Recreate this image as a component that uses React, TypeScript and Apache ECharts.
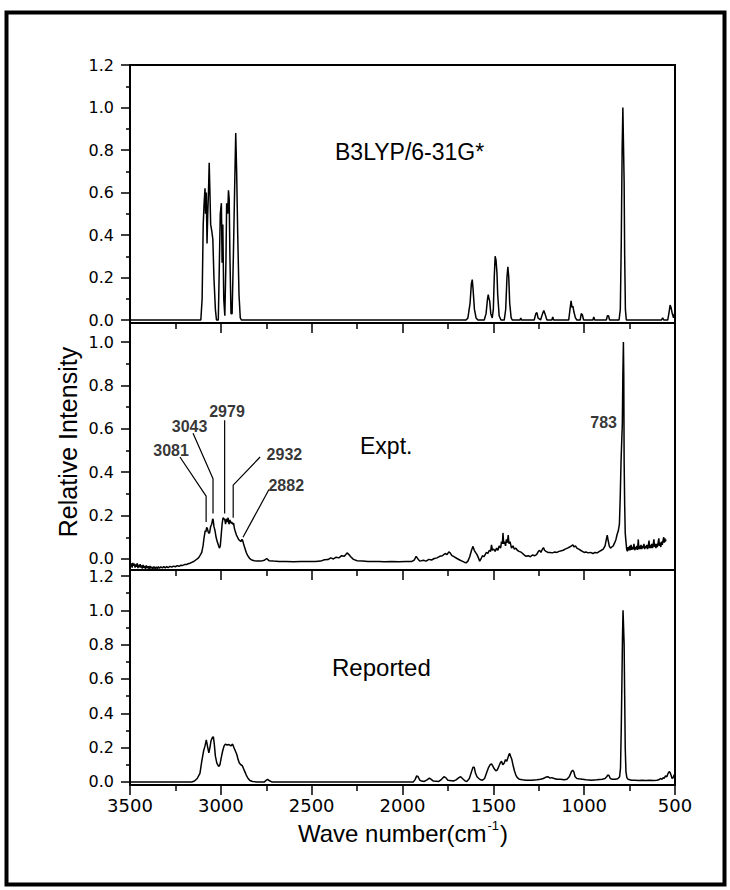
import React, { useEffect, useRef } from "react";
import * as echarts from "echarts";

// ---------- data (wave number cm-1, relative intensity) ----------
const waveTicks = [3500, 3000, 2500, 2000, 1500, 1000, 500];
const fullMajorY = [0, 0.2, 0.4, 0.6, 0.8, 1.0, 1.2];
const fullMinorY = [0.1, 0.3, 0.5, 0.7, 0.9, 1.1];
const exptMajorY = [0, 0.2, 0.4, 0.6, 0.8, 1.0];
const exptMinorY = [0.1, 0.3, 0.5, 0.7, 0.9];

const calcSpectrum: [number, number][] = [
  [3500, 0], [3110, 0], [3103, 0.1], [3097, 0.45], [3092, 0.55], [3087, 0.62], [3084, 0.5], [3080, 0.6],
  [3076, 0.36], [3072, 0.5], [3068, 0.6], [3064, 0.74], [3060, 0.6], [3056, 0.45], [3050, 0.42],
  [3044, 0.38], [3038, 0.2], [3030, 0.05], [3024, 0], [3014, 0], [3008, 0.27], [3003, 0.5], [2997, 0.55],
  [2993, 0.27], [2989, 0.45], [2984, 0.1], [2978, 0.02], [2972, 0.27], [2968, 0.55], [2962, 0.5],
  [2958, 0.61], [2954, 0.57], [2950, 0.3], [2944, 0.03], [2938, 0.03], [2931, 0.3], [2924, 0.62],
  [2918, 0.88], [2913, 0.7], [2907, 0.4], [2900, 0.12], [2893, 0.01], [2886, 0], [1650, 0], [1640, 0.01],
  [1628, 0.08], [1621, 0.17], [1616, 0.19], [1612, 0.15], [1604, 0.05], [1595, 0.01], [1585, 0],
  [1550, 0], [1540, 0.03], [1532, 0.1], [1528, 0.12], [1524, 0.1], [1520, 0.09], [1514, 0.03],
  [1506, 0.01], [1500, 0.05], [1495, 0.2], [1490, 0.3], [1485, 0.28], [1480, 0.22], [1476, 0.12],
  [1468, 0.02], [1458, 0], [1440, 0], [1432, 0.05], [1425, 0.2], [1420, 0.25], [1415, 0.2], [1410, 0.08],
  [1402, 0.01], [1395, 0], [1353, 0], [1349, 0.01], [1345, 0], [1275, 0], [1266, 0.03], [1260, 0.035],
  [1254, 0.01], [1240, 0], [1229, 0.03], [1222, 0.045], [1216, 0.03], [1205, 0], [1178, 0], [1173, 0.015],
  [1168, 0], [1085, 0], [1078, 0.05], [1072, 0.09], [1067, 0.06], [1062, 0.065], [1057, 0.04],
  [1048, 0.01], [1040, 0], [1022, 0], [1016, 0.03], [1010, 0.025], [1003, 0], [952, 0], [947, 0.015],
  [942, 0], [878, 0], [872, 0.02], [866, 0.02], [860, 0], [808, 0], [801, 0.05], [796, 0.35], [791, 0.8],
  [787, 1.0], [784, 1.0], [780, 0.65], [777, 0.3], [773, 0.05], [768, 0], [575, 0], [568, 0.01], [562, 0],
  [540, 0], [532, 0.04], [527, 0.07], [522, 0.06], [515, 0.03], [508, 0.01], [503, 0.03], [500, 0.04],
];

const exptSpectrum: [number, number][] = [
  [3500, -0.015], [3496, -0.035], [3492, -0.02], [3488, -0.04], [3484, -0.018], [3480, -0.032],
  [3476, -0.022], [3472, -0.04], [3468, -0.025], [3464, -0.036], [3460, -0.02], [3456, -0.042],
  [3452, -0.028], [3448, -0.038], [3444, -0.024], [3440, -0.04], [3436, -0.03], [3432, -0.044],
  [3428, -0.028], [3424, -0.04], [3420, -0.032], [3415, -0.045], [3410, -0.03], [3405, -0.042],
  [3400, -0.034], [3395, -0.046], [3390, -0.033], [3385, -0.044], [3380, -0.036], [3374, -0.046],
  [3368, -0.035], [3362, -0.045], [3356, -0.037], [3350, -0.044], [3344, -0.036], [3338, -0.043],
  [3330, -0.036], [3322, -0.042], [3314, -0.035], [3306, -0.041], [3298, -0.035], [3290, -0.04],
  [3280, -0.034], [3270, -0.038], [3260, -0.033], [3250, -0.036], [3240, -0.031], [3230, -0.034],
  [3220, -0.029], [3210, -0.03], [3200, -0.026], [3190, -0.026], [3180, -0.022], [3170, -0.02],
  [3160, -0.016], [3150, -0.012], [3140, -0.006], [3130, 0.0], [3122, 0.006], [3115, 0.015],
  [3105, 0.03], [3098, 0.06], [3092, 0.1], [3086, 0.13], [3082, 0.125], [3078, 0.145], [3074, 0.14],
  [3068, 0.12], [3062, 0.12], [3056, 0.15], [3050, 0.16], [3045, 0.185], [3042, 0.18], [3038, 0.15],
  [3032, 0.13], [3026, 0.1], [3020, 0.08], [3014, 0.065], [3008, 0.05], [3003, 0.06], [2998, 0.11],
  [2993, 0.16], [2988, 0.19], [2983, 0.185], [2978, 0.18], [2974, 0.16], [2970, 0.185], [2965, 0.17],
  [2960, 0.19], [2955, 0.16], [2950, 0.18], [2945, 0.165], [2940, 0.17], [2935, 0.16], [2930, 0.165],
  [2925, 0.14], [2920, 0.125], [2914, 0.11], [2908, 0.1], [2902, 0.09], [2896, 0.085], [2890, 0.08],
  [2884, 0.09], [2880, 0.085], [2875, 0.07], [2868, 0.05], [2860, 0.03], [2852, 0.015], [2842, 0.003],
  [2830, -0.005], [2815, -0.008], [2800, -0.01], [2780, -0.01], [2760, -0.006], [2748, 0.002],
  [2735, -0.008], [2710, -0.01], [2680, -0.012], [2640, -0.012], [2600, -0.013], [2560, -0.012],
  [2520, -0.012], [2480, -0.012], [2450, -0.01], [2430, -0.004], [2410, -0.003], [2395, 0.005],
  [2380, 0.0], [2365, 0.008], [2350, 0.005], [2335, 0.015], [2320, 0.012], [2305, 0.028], [2295, 0.02],
  [2285, 0.01], [2270, -0.002], [2250, -0.008], [2220, -0.01], [2190, -0.012], [2160, -0.012],
  [2130, -0.012], [2100, -0.013], [2060, -0.012], [2020, -0.013], [1980, -0.012], [1950, -0.012],
  [1935, -0.005], [1925, 0.012], [1915, 0.0], [1905, -0.01], [1885, -0.006], [1870, -0.01],
  [1855, -0.002], [1840, -0.005], [1825, 0.002], [1810, 0.005], [1795, 0.012], [1780, 0.015],
  [1765, 0.025], [1755, 0.02], [1745, 0.033], [1738, 0.028], [1728, 0.015], [1715, 0.01], [1700, 0.002],
  [1685, -0.005], [1672, -0.01], [1660, -0.015], [1650, -0.018], [1640, -0.01], [1630, 0.01],
  [1620, 0.04], [1612, 0.058], [1605, 0.04], [1598, 0.03], [1590, 0.02], [1582, 0.005], [1575, -0.01],
  [1568, 0.0], [1560, 0.015], [1552, 0.01], [1545, 0.02], [1538, 0.03], [1530, 0.025], [1522, 0.04],
  [1515, 0.035], [1510, 0.065], [1505, 0.04], [1498, 0.045], [1490, 0.035], [1482, 0.05], [1475, 0.04],
  [1468, 0.06], [1460, 0.05], [1455, 0.08], [1450, 0.07], [1447, 0.12], [1443, 0.07], [1438, 0.08],
  [1433, 0.06], [1428, 0.09], [1423, 0.075], [1418, 0.11], [1414, 0.07], [1408, 0.08], [1400, 0.05],
  [1392, 0.06], [1384, 0.045], [1376, 0.05], [1368, 0.04], [1358, 0.035], [1345, 0.03], [1332, 0.02],
  [1320, 0.012], [1308, 0.015], [1296, 0.01], [1285, 0.018], [1272, 0.015], [1262, 0.02], [1252, 0.035],
  [1245, 0.04], [1238, 0.03], [1230, 0.045], [1224, 0.052], [1218, 0.04], [1210, 0.035], [1200, 0.03],
  [1188, 0.03], [1175, 0.028], [1162, 0.032], [1150, 0.03], [1138, 0.035], [1125, 0.038], [1115, 0.04],
  [1105, 0.045], [1092, 0.05], [1080, 0.055], [1070, 0.06], [1062, 0.065], [1055, 0.055], [1048, 0.06],
  [1040, 0.05], [1030, 0.045], [1020, 0.04], [1010, 0.035], [1000, 0.03], [990, 0.032], [978, 0.028],
  [965, 0.03], [952, 0.025], [940, 0.03], [928, 0.028], [916, 0.035], [905, 0.04], [895, 0.045],
  [885, 0.06], [878, 0.09], [873, 0.11], [868, 0.085], [862, 0.06], [855, 0.05], [848, 0.055],
  [840, 0.06], [832, 0.075], [825, 0.09], [818, 0.115], [812, 0.13], [806, 0.16], [801, 0.3],
  [797, 0.45], [793, 0.55], [790, 0.62], [787, 0.85], [784, 1.0], [782, 0.85], [780, 0.45], [777, 0.25],
  [774, 0.12], [770, 0.08], [766, 0.045], [762, 0.035], [758, 0.055], [754, 0.04], [750, 0.06],
  [746, 0.04], [742, 0.065], [738, 0.042], [734, 0.055], [730, 0.045], [726, 0.07], [722, 0.04],
  [718, 0.055], [714, 0.045], [710, 0.06], [706, 0.042], [702, 0.09], [699, 0.045], [695, 0.06],
  [691, 0.045], [687, 0.065], [683, 0.045], [679, 0.06], [675, 0.05], [671, 0.07], [667, 0.045],
  [663, 0.06], [659, 0.05], [655, 0.065], [651, 0.045], [647, 0.06], [643, 0.085], [640, 0.05],
  [636, 0.065], [632, 0.05], [628, 0.07], [624, 0.05], [620, 0.065], [616, 0.09], [613, 0.055],
  [609, 0.07], [605, 0.05], [601, 0.07], [597, 0.055], [593, 0.075], [589, 0.095], [586, 0.06],
  [582, 0.075], [578, 0.055], [574, 0.08], [570, 0.065], [566, 0.085], [562, 0.1], [559, 0.075],
  [556, 0.095], [553, 0.08], [550, 0.09],
];

const reportedSpectrum: [number, number][] = [
  [3500, 0], [3160, 0], [3145, 0.005], [3130, 0.02], [3115, 0.05], [3105, 0.12], [3095, 0.18],
  [3087, 0.21], [3080, 0.245], [3072, 0.2], [3066, 0.17], [3060, 0.2], [3054, 0.24], [3046, 0.26],
  [3041, 0.262], [3036, 0.22], [3030, 0.15], [3022, 0.11], [3012, 0.09], [3005, 0.1], [2998, 0.14],
  [2990, 0.18], [2982, 0.21], [2975, 0.22], [2965, 0.215], [2955, 0.218], [2945, 0.21], [2935, 0.22],
  [2928, 0.2], [2920, 0.18], [2912, 0.16], [2905, 0.13], [2898, 0.11], [2890, 0.1], [2882, 0.095],
  [2876, 0.08], [2868, 0.06], [2860, 0.04], [2850, 0.02], [2840, 0.008], [2825, 0.002], [2800, 0],
  [2760, 0], [2750, 0.01], [2742, 0.015], [2735, 0.008], [2720, 0], [1940, 0], [1930, 0.015],
  [1922, 0.035], [1914, 0.03], [1905, 0.01], [1895, 0.005], [1880, 0.003], [1865, 0.012], [1852, 0.022],
  [1842, 0.015], [1830, 0.005], [1800, 0.003], [1785, 0.015], [1772, 0.03], [1762, 0.025], [1750, 0.01],
  [1720, 0.005], [1705, 0.012], [1690, 0.025], [1680, 0.03], [1670, 0.02], [1655, 0.005], [1645, 0.003],
  [1632, 0.02], [1620, 0.06], [1612, 0.085], [1605, 0.085], [1598, 0.05], [1590, 0.03], [1580, 0.02],
  [1570, 0.012], [1560, 0.01], [1548, 0.02], [1538, 0.05], [1528, 0.08], [1518, 0.1], [1510, 0.105],
  [1502, 0.09], [1494, 0.075], [1486, 0.065], [1478, 0.07], [1470, 0.09], [1462, 0.11], [1455, 0.12],
  [1448, 0.1], [1440, 0.11], [1433, 0.13], [1426, 0.12], [1420, 0.14], [1414, 0.16], [1410, 0.165],
  [1405, 0.15], [1398, 0.13], [1392, 0.1], [1384, 0.065], [1376, 0.04], [1368, 0.025], [1356, 0.015],
  [1340, 0.012], [1320, 0.01], [1290, 0.01], [1260, 0.012], [1240, 0.015], [1225, 0.02], [1210, 0.028],
  [1198, 0.03], [1188, 0.022], [1178, 0.025], [1165, 0.02], [1150, 0.015], [1130, 0.015], [1110, 0.012],
  [1095, 0.015], [1082, 0.03], [1070, 0.06], [1063, 0.068], [1057, 0.06], [1050, 0.03], [1040, 0.02],
  [1030, 0.018], [1010, 0.015], [990, 0.012], [960, 0.01], [930, 0.012], [900, 0.015], [885, 0.02],
  [876, 0.03], [870, 0.04], [864, 0.038], [856, 0.02], [845, 0.015], [830, 0.015], [815, 0.018],
  [805, 0.03], [800, 0.08], [796, 0.3], [792, 0.6], [789, 0.85], [786, 1.0], [783, 1.0], [780, 0.8],
  [777, 0.5], [774, 0.2], [770, 0.06], [765, 0.025], [758, 0.015], [740, 0.01], [720, 0.01], [700, 0.008],
  [680, 0.01], [660, 0.008], [640, 0.01], [620, 0.008], [600, 0.01], [590, 0.012], [580, 0.02],
  [572, 0.015], [565, 0.025], [560, 0.02], [552, 0.035], [545, 0.03], [538, 0.05], [532, 0.06],
  [527, 0.055], [522, 0.04], [516, 0.02], [510, 0.025], [505, 0.04], [500, 0.045],
];

// peak annotations on the experimental panel: [wave number, intensity, text]
const peakLabels: [number, number, string][] = [
  [3274, 0.5, "3081"],
  [3172, 0.61, "3043"],
  [2966, 0.68, "2979"],
  [2650, 0.48, "2932"],
  [2640, 0.34, "2882"],
  [893, 0.63, "783"],
];
const leader3081: [number, number][] = [[3225, 0.47], [3081, 0.29], [3081, 0.17]];
const leader3043: [number, number][] = [[3153, 0.58], [3043, 0.37], [3043, 0.21]];
const leader2979: [number, number][] = [[2979, 0.64], [2979, 0.21]];
const leader2932: [number, number][] = [[2784, 0.47], [2932, 0.34], [2932, 0.19]];
const leader2882: [number, number][] = [[2735, 0.32], [2878, 0.1]];

const panelTitles = ["B3LYP/6-31G*", "Expt.", "Reported"];

const SANS = "DejaVu Sans";
const ARIAL = "Liberation Sans";

function xAxisFor(gridIndex: number, showLabels: boolean) {
  return {
    type: "value",
    gridIndex,
    inverse: true,
    min: 500,
    max: 3500,
    interval: 500,
    axisLine: { show: true, onZero: false, lineStyle: { color: "#000", width: 2 } },
    axisTick: { show: true, inside: false, length: 10, customValues: waveTicks, lineStyle: { color: "#000", width: 1.5 } },
    minorTick: { show: true, splitNumber: 2, length: 6, lineStyle: { color: "#000", width: 1.5 } },
    axisLabel: {
      show: showLabels,
      color: "#000",
      fontSize: 18,
      fontFamily: SANS,
      margin: 11,
      formatter: (v: number) => String(v),
    },
    splitLine: { show: false },
    minorSplitLine: { show: false },
  };
}

function yAxesFor(gridIndex: number, min: number, max: number, major: number[], minor: number[]) {
  return [
    {
      type: "value",
      gridIndex,
      min,
      max,
      position: "left",
      axisLine: { show: true, onZero: false, lineStyle: { color: "#000", width: 2 } },
      axisTick: { show: true, inside: false, length: 9, customValues: major, lineStyle: { color: "#000", width: 1.5 } },
      axisLabel: {
        show: true,
        customValues: major,
        formatter: (v: number) => v.toFixed(1),
        color: "#000",
        fontSize: 16,
        lineHeight: 14,
        fontFamily: SANS,
        margin: 16,
      },
      splitLine: { show: false },
    },
    {
      type: "value",
      gridIndex,
      min,
      max,
      position: "left",
      axisLine: { show: false, onZero: false },
      axisTick: { show: true, inside: false, length: 4, customValues: minor, lineStyle: { color: "#000", width: 1.5 } },
      axisLabel: { show: false },
      splitLine: { show: false },
    },
  ];
}

function lineSeries(name: string, data: [number, number][], xi: number, yi: number, width = 1.5) {
  return {
    type: "line",
    name,
    xAxisIndex: xi,
    yAxisIndex: yi,
    data,
    showSymbol: false,
    symbol: "none",
    clip: true,
    lineStyle: { color: "#000", width },
    silent: true,
  };
}

export default function App() {
  const ref = useRef<HTMLDivElement>(null);
  useEffect(() => {
    if (!ref.current) return;
    const chart = echarts.init(ref.current, null, { renderer: "svg" });
    const grids = [
      { left: 130, width: 545, top: 65, height: 258 },
      { left: 130, width: 545, top: 323, height: 247 },
      { left: 130, width: 545, top: 570, height: 215 },
    ].map((g) => ({ ...g, show: true, borderColor: "#000", borderWidth: 2, backgroundColor: "transparent" }));

    const option: any = {
      animation: false,
      backgroundColor: "#fff",
      grid: grids,
      xAxis: [xAxisFor(0, false), xAxisFor(1, false), xAxisFor(2, true)],
      yAxis: [
        ...yAxesFor(0, -0.014, 1.2, fullMajorY, fullMinorY),
        ...yAxesFor(1, -0.051, 1.088, exptMajorY, exptMinorY),
        ...yAxesFor(2, -0.018, 1.235, fullMajorY, fullMinorY),
      ],
      series: [
        lineSeries("B3LYP/6-31G*", calcSpectrum, 0, 0),
        lineSeries("Expt.", exptSpectrum, 1, 2),
        lineSeries("Reported", reportedSpectrum, 2, 4),
        lineSeries("leader3081", leader3081, 1, 2, 1.2),
        lineSeries("leader3043", leader3043, 1, 2, 1.2),
        lineSeries("leader2979", leader2979, 1, 2, 1.2),
        lineSeries("leader2932", leader2932, 1, 2, 1.2),
        lineSeries("leader2882", leader2882, 1, 2, 1.2),
        {
          type: "scatter",
          xAxisIndex: 1,
          yAxisIndex: 2,
          symbolSize: 0,
          silent: true,
          data: peakLabels.map((p) => ({ value: [p[0], p[1]], name: p[2] })),
          label: {
            show: true,
            position: "inside",
            formatter: (p: any) => p.name,
            color: "#000",
            fontFamily: ARIAL,
            fontWeight: "bold",
            fontSize: 16,
          },
        },
      ],
      graphic: [
        {
          type: "rect",
          shape: { x: 6.5, y: 12.5, width: 718, height: 872 },
          style: { fill: "none", stroke: "#000", lineWidth: 4 },
          silent: true,
        },
        {
          type: "text",
          x: 335,
          y: 152,
          style: { text: panelTitles[0], fontSize: 23, fontFamily: ARIAL, fill: "#000", textVerticalAlign: "middle" },
        },
        {
          type: "text",
          x: 360,
          y: 446,
          style: { text: panelTitles[1], fontSize: 23, fontFamily: ARIAL, fill: "#000", textVerticalAlign: "middle" },
        },
        {
          type: "text",
          x: 332,
          y: 667,
          style: { text: panelTitles[2], fontSize: 24, fontFamily: ARIAL, fill: "#000", textVerticalAlign: "middle" },
        },
        {
          type: "text",
          x: 68,
          y: 442,
          rotation: Math.PI / 2,
          style: {
            text: "Relative Intensity",
            fontSize: 25,
            fontFamily: ARIAL,
            fill: "#000",
            textAlign: "center",
            textVerticalAlign: "middle",
          },
        },
        {
          type: "text",
          x: 403,
          y: 833,
          style: {
            text: "{a|Wave number(cm}{s|-1}{a|)}",
            textAlign: "center",
            textVerticalAlign: "middle",
            rich: {
              a: { fontSize: 24, fontFamily: ARIAL, fill: "#000", lineHeight: 28 },
              s: { fontSize: 13, fontFamily: ARIAL, fill: "#000", lineHeight: 28, verticalAlign: "top", padding: [0, 1, 12, 1] },
            },
          },
        },
      ],
    };
    chart.setOption(option);
    return () => chart.dispose();
  }, []);
  return (
    <div
      ref={ref}
      style={{ position: "absolute", left: 0, top: 0, width: 730, height: 890, background: "#fff" }}
    />
  );
}
